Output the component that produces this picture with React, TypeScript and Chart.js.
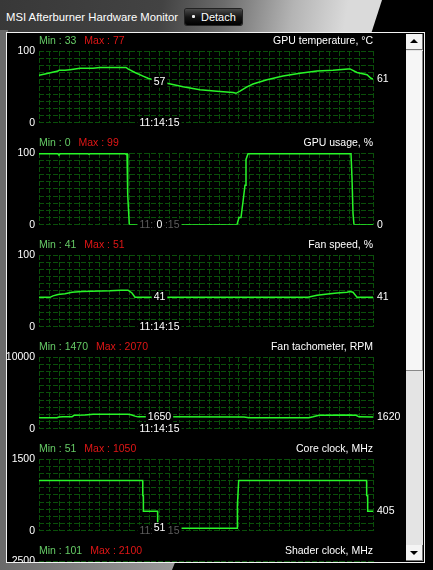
import { useEffect, useRef } from "react";
import { Chart, registerables } from "chart.js";

Chart.register(...registerables);

// time axis is in seconds of history, 0 = oldest sample on screen
const HISTORY = 334;
const CURSOR_T = 120.5;
const CURSOR_TIME = "11:14:15";

const titles = [
  "GPU temperature, °C",
  "GPU usage, %",
  "Fan speed, %",
  "Fan tachometer, RPM",
  "Core clock, MHz",
  "Shader clock, MHz",
];
const minLabels = [33, 0, 41, 1470, 51, 101];
const maxLabels = [77, 99, 51, 2070, 1050, 2100];
const axisMax = [100, 100, 100, 10000, 1500, 2500];
const cursorValues = [57, 0, 41, 1650, 51, 101];

const tempTimes = [0, 6, 19, 20, 26, 31, 41, 54, 61, 87, 89, 96, 104, 109, 120.5, 128, 144, 161, 178, 194, 197, 201, 208, 214, 228, 244, 261, 278, 294, 309, 311, 318, 328, 332, 334];
const tempValues = [66, 68, 72, 73, 73, 74, 76, 76, 77, 77, 75, 70, 65, 62, 57, 55, 50, 46, 44, 42, 41, 44, 50, 54, 60, 65, 69, 72, 73, 75, 75, 70, 67, 62, 61];

const usageTimes = [0, 19, 20, 21, 49, 50, 51, 86, 87, 88, 88.7, 90.3, 120.5, 198, 200, 202, 204, 206, 207, 209, 312, 313, 314, 315, 334];
const usageValues = [99, 99, 97, 99, 99, 98, 99, 99, 98, 99, 42, 0, 0, 0, 10, 10, 32, 55, 91, 99, 99, 65, 16, 0, 0];

const fanTimes = [0, 11, 14, 19, 26, 33, 43, 71, 82, 89, 93, 96, 120.5, 269, 278, 291, 298, 308, 311, 314, 318, 334];
const fanValues = [41, 41, 43, 45, 46, 48, 49, 50, 51, 51, 47, 41, 41, 41, 44, 46, 47, 48, 49, 48, 41, 41];

const tachTimes = [0, 18, 20, 24, 33, 35, 46, 54, 89, 92, 96, 99, 120.5, 205, 210, 270, 274, 280, 310, 317, 320, 334];
const tachValues = [1540, 1540, 1620, 1660, 1660, 1870, 1900, 2030, 2030, 1950, 1750, 1650, 1650, 1640, 1540, 1540, 1660, 1870, 1900, 1870, 1660, 1620];

const coreTimes = [0, 103.7, 103.8, 104.3, 104.4, 118.6, 118.7, 120.5, 198.3, 198.4, 199.7, 327.6, 327.7, 328.6, 328.7, 334];
const coreValues = [1050, 1050, 735, 735, 405, 405, 51, 51, 51, 540, 1050, 1050, 735, 735, 405, 405];

const shaderTimes = coreTimes;
const shaderValues = [2100, 2100, 1470, 1470, 810, 810, 101, 101, 101, 1080, 2100, 2100, 1470, 1470, 810, 810];

const seriesTimes = [tempTimes, usageTimes, fanTimes, tachTimes, coreTimes, shaderTimes];
const seriesValues = [tempValues, usageValues, fanValues, tachValues, coreValues, shaderValues];

const FONT = '10.5px "Liberation Sans", Arial, sans-serif';
const GRID = "#0a4f0a";
const LINE = "#28f528";
const MIN_COLOR = "#66cc66";
const MAX_COLOR = "#e01616";

const overlay = {
  id: "overlay",
  afterDraw(chart: any, _args: any, opts: any) {
    const { ctx, chartArea, scales } = chart;
    const i = opts.index as number;
    const values = seriesValues[i];
    ctx.save();
    ctx.font = FONT;
    ctx.textBaseline = "middle";

    // header row
    const hy = chartArea.top - 10;
    const minText = "Min : " + minLabels[i];
    ctx.textAlign = "left";
    ctx.fillStyle = MIN_COLOR;
    ctx.fillText(minText, chartArea.left, hy);
    ctx.fillStyle = MAX_COLOR;
    ctx.fillText("Max : " + maxLabels[i], chartArea.left + ctx.measureText(minText).width + 8, hy);
    ctx.fillStyle = "#fff";
    ctx.textAlign = "right";
    ctx.fillText(titles[i], chartArea.right, hy);

    // cursor time + value
    const cx = scales.x.getPixelForValue(CURSOR_T);
    const cy = scales.y.getPixelForValue(cursorValues[i]);
    const near = Math.abs(cy - chartArea.bottom) < 10;
    ctx.textAlign = "center";
    const tw = ctx.measureText(CURSOR_TIME).width;
    ctx.fillStyle = "#000";
    ctx.fillRect(cx - tw / 2 - 2, chartArea.bottom - 6, tw + 4, 12);
    ctx.fillStyle = near ? "#5c5c5c" : "#fff";
    ctx.fillText(CURSOR_TIME, cx, chartArea.bottom);

    const vText = String(cursorValues[i]);
    const vw = ctx.measureText(vText).width;
    ctx.fillStyle = "#000";
    ctx.fillRect(cx - vw / 2 - 2, cy - 6, vw + 4, 12);
    ctx.fillStyle = "#fff";
    ctx.fillText(vText, cx, cy);

    // current value on the right
    const last = values[values.length - 1];
    ctx.textAlign = "left";
    ctx.fillText(String(last), chartArea.right + 4, scales.y.getPixelForValue(last));
    ctx.restore();
  },
};

function MonitorGraph({ index }: { index: number }) {
  const canvasRef = useRef<HTMLCanvasElement>(null);
  const chartInstance = useRef<Chart | null>(null);

  useEffect(() => {
    if (!canvasRef.current) return;
    const ctx = canvasRef.current.getContext("2d");
    if (!ctx) return;
    if (chartInstance.current) chartInstance.current.destroy();

    const max = axisMax[index];
    const times = seriesTimes[index];
    const values = seriesValues[index];

    chartInstance.current = new Chart(ctx, {
      type: "line",
      data: {
        datasets: [
          {
            data: times.map((t, k) => ({ x: t, y: values[k] })),
            borderColor: LINE,
            borderWidth: 1.5,
            pointRadius: 0,
            tension: 0,
            fill: false,
          },
        ],
      },
      options: {
        responsive: false,
        animation: false,
        events: [],
        layout: { padding: { top: 20, right: 33, bottom: 1, left: 0 } },
        plugins: {
          legend: { display: false },
          tooltip: { enabled: false },
          overlay: { index },
        } as any,
        scales: {
          x: {
            type: "linear",
            min: 0,
            max: HISTORY,
            ticks: { display: false, stepSize: 10 },
            grid: { color: GRID, lineWidth: 1, drawTicks: false },
            border: { display: false, dash: [5, 2] },
            afterFit: (scale: any) => {
              scale.height = 0;
            },
          },
          y: {
            min: 0,
            max,
            ticks: {
              stepSize: max / 10,
              autoSkip: false,
              color: "#fff",
              padding: 4,
              font: { family: '"Liberation Sans", Arial, sans-serif', size: 10.5 },
              callback: (v: any) => (v === 0 || v === max ? String(v) : ""),
            },
            grid: { color: GRID, lineWidth: 1, drawTicks: false },
            border: { display: false, dash: [5, 2] },
            afterFit: (scale: any) => {
              scale.width = 32;
            },
          },
        },
      },
      plugins: [overlay],
    });

    return () => {
      if (chartInstance.current) {
        chartInstance.current.destroy();
        chartInstance.current = null;
      }
    };
  }, [index]);

  return (
    <canvas
      ref={canvasRef}
      width={399}
      height={102}
      style={{ position: "absolute", left: 0, top: -2 + 102 * index, width: 399, height: 102 }}
    />
  );
}

export default function App() {
  return (
    <div
      style={{
        position: "fixed",
        left: 0,
        top: 0,
        width: 433,
        height: 570,
        overflow: "hidden",
        background: "#000",
        fontFamily: '"Liberation Sans", Arial, sans-serif',
      }}
    >
      {/* window header */}
      <div
        style={{
          position: "absolute",
          left: 0,
          top: 0,
          width: 382,
          height: 34,
          background: "linear-gradient(100deg, #383838 0%, #434343 42%, #6c6c6c 58%, #b4b4b4 76%, #dadada 90%)",
          clipPath: "polygon(0 0, 382px 0, 371px 34px, 0 34px)",
        }}
      />
      <div style={{ position: "absolute", left: 0, top: 30, width: 8, height: 540, background: "#6a6a6a" }} />
      <div
        style={{
          position: "absolute",
          left: 0,
          top: 560,
          width: 176,
          height: 10,
          background: "linear-gradient(90deg, #6a6a6a, #9a9a9a)",
          clipPath: "polygon(0 0, 176px 0, 172px 10px, 0 10px)",
        }}
      />
      <div style={{ position: "absolute", left: 6, top: 9, color: "#fff", fontSize: 11.3, lineHeight: "16px", whiteSpace: "nowrap" }}>
        MSI Afterburner Hardware Monitor
      </div>
      <div
        style={{
          position: "absolute",
          left: 185,
          top: 9,
          width: 57,
          height: 16,
          borderRadius: 2,
          background: "linear-gradient(180deg, #4a4a4a 0%, #151515 50%, #000 100%)",
          boxShadow: "0 0 0 1px #222",
          color: "#fff",
          fontSize: 11,
          lineHeight: "16px",
        }}
      >
        <span style={{ position: "absolute", left: 7, top: 6, width: 3, height: 3, background: "#eee", borderRadius: 1 }} />
        <span style={{ position: "absolute", left: 16 }}>Detach</span>
      </div>

      {/* monitor panel */}
      <div
        style={{
          position: "absolute",
          left: 6,
          top: 32,
          width: 419,
          height: 531,
          boxSizing: "border-box",
          border: "1px solid #f2f2f2",
          background: "#000",
          overflow: "hidden",
        }}
      >
        {titles.map((_, i) => (
          <MonitorGraph key={i} index={i} />
        ))}

        {/* scrollbar */}
        <div style={{ position: "absolute", left: 399, top: 1, width: 17, height: 527, background: "#e4e4e4" }} />
        <div
          style={{
            position: "absolute",
            left: 399,
            top: 1,
            width: 17,
            height: 16,
            boxSizing: "border-box",
            background: "#f4f4f4",
            borderRight: "1px solid #777",
            borderBottom: "1px solid #777",
          }}
        >
          <div style={{ position: "absolute", left: 4, top: 5, width: 0, height: 0, borderLeft: "4px solid transparent", borderRight: "4px solid transparent", borderBottom: "4px solid #000" }} />
        </div>
        <div
          style={{
            position: "absolute",
            left: 399,
            top: 18,
            width: 17,
            height: 320,
            boxSizing: "border-box",
            background: "#f6f6f6",
            borderRight: "1px solid #888",
            borderBottom: "1px solid #888",
          }}
        />
        <div
          style={{
            position: "absolute",
            left: 399,
            top: 512,
            width: 17,
            height: 16,
            boxSizing: "border-box",
            background: "#f4f4f4",
            borderRight: "1px solid #777",
            borderBottom: "1px solid #777",
          }}
        >
          <div style={{ position: "absolute", left: 4, top: 6, width: 0, height: 0, borderLeft: "4px solid transparent", borderRight: "4px solid transparent", borderTop: "4px solid #000" }} />
        </div>
      </div>
    </div>
  );
}
